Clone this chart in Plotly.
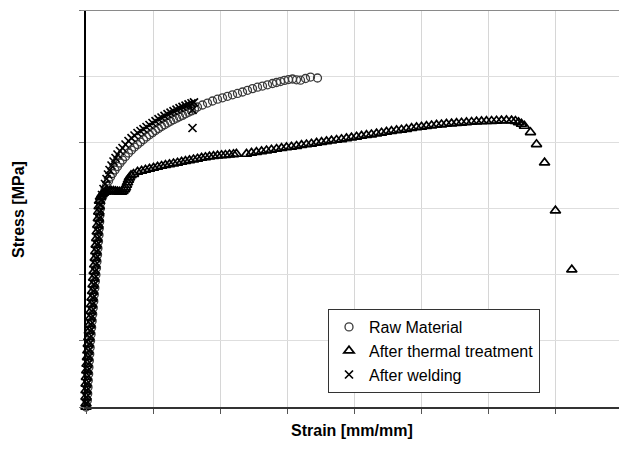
import plotly.graph_objects as go

# ---------------- data (strain [mm/mm], stress [MPa]) ----------------
raw_strain_elastic = [0.0000, 0.0010, 0.0013, 0.0015, 0.0017, 0.0020, 0.0022, 0.0025, 0.0028, 0.0031,
                      0.0034, 0.0038, 0.0042, 0.0046, 0.0050, 0.0054, 0.0058, 0.0062, 0.0066, 0.0070,
                      0.0074, 0.0078, 0.0082, 0.0086, 0.0089, 0.0093, 0.0097, 0.0099, 0.0102, 0.0104,
                      0.0107]
raw_stress_elastic = [0, 10, 20, 30, 40, 50, 60, 70, 80, 90,
                      100, 110, 120, 130, 140, 150, 160, 170, 180, 190,
                      200, 210, 220, 230, 240, 250, 260, 270, 280, 290,
                      300]
raw_strain_knee = [0.01080, 0.01192, 0.01304, 0.01416, 0.01528, 0.01677, 0.01826, 0.01975, 0.02161,
                   0.02347, 0.02534, 0.02720, 0.02943, 0.03167, 0.03390, 0.03614, 0.03838, 0.04061,
                   0.04285, 0.04508, 0.04732, 0.04955, 0.05179, 0.05402, 0.05626, 0.05850, 0.06073,
                   0.06297, 0.06520, 0.06744, 0.06967, 0.07191, 0.07414, 0.07638, 0.07861, 0.08085]
raw_stress_knee = [308.3, 315.9, 321.9, 328.0, 334.0, 341.6, 347.6, 352.9, 358.2,
                   363.5, 368.8, 373.3, 378.6, 383.9, 388.4, 392.9, 396.7, 400.5,
                   404.3, 408.1, 411.4, 414.7, 417.9, 420.9, 423.9, 426.6, 429.2,
                   431.8, 434.2, 436.5, 438.6, 440.8, 443.1, 445.4, 447.6, 450.1]
raw_strain_hard = [0.08308, 0.08681, 0.09054, 0.09426, 0.09799, 0.10171, 0.10544, 0.10917, 0.11289,
                   0.11662, 0.12034, 0.12407, 0.12779, 0.13152, 0.13525, 0.13897, 0.14195, 0.14493,
                   0.14791, 0.15089, 0.15387, 0.15686, 0.15984, 0.16356, 0.16729, 0.17250]
raw_stress_hard = [453.4, 456.4, 459.4, 462.5, 465.2, 467.3, 469.6, 471.8, 473.9,
                   476.1, 478.6, 481.2, 483.3, 485.1, 486.9, 488.9, 490.4, 491.9,
                   493.7, 494.9, 495.7, 494.5, 493.9, 496.5, 498.7, 497.2]

thermal_strain_elastic = [0.0000, 0.0000, 0.0000, 0.0000, 0.0001, 0.0003, 0.0006, 0.0008, 0.0011, 0.0014,
                          0.0017, 0.0021, 0.0025, 0.0029, 0.0033, 0.0037, 0.0041, 0.0045, 0.0049, 0.0053,
                          0.0057, 0.0061, 0.0065, 0.0069, 0.0073, 0.0076, 0.0080, 0.0084, 0.0088, 0.0092,
                          0.0095, 0.0098]
thermal_stress_elastic = [0, 5, 15, 25, 35, 45, 55, 65, 75, 85,
                          95, 105, 115, 125, 135, 145, 155, 165, 175, 185,
                          195, 205, 215, 225, 235, 245, 255, 265, 275, 285,
                          295, 303]
thermal_strain_yield = [0.01006, 0.01080, 0.01192, 0.01304, 0.01453, 0.01602, 0.01751, 0.01900, 0.02049,
                        0.02198, 0.02347, 0.02496, 0.02645, 0.02757, 0.02869, 0.02943, 0.03018, 0.03092,
                        0.03167, 0.03241, 0.03353]
thermal_stress_yield = [311.3, 317.4, 321.2, 323.4, 324.9, 325.7, 326.1, 326.4, 326.4,
                        326.0, 325.5, 325.2, 325.2, 326.4, 328.7, 331.7, 335.5, 339.3,
                        343.1, 346.8, 349.9]
thermal_strain_seg1 = [0.0354, 0.0384, 0.0414, 0.0443, 0.0473, 0.0503, 0.0533, 0.0563, 0.0592,
                       0.0622, 0.0652, 0.0682, 0.0712, 0.0741, 0.0771, 0.0801, 0.0831, 0.0861,
                       0.0890, 0.0920, 0.0950, 0.0980, 0.1010, 0.1039, 0.1069, 0.1099, 0.1121]
thermal_stress_seg1 = [352.1, 355.2, 356.7, 358.2, 359.7, 361.2, 362.7, 364.2, 365.4,
                       366.6, 367.9, 369.1, 370.3, 371.5, 372.7, 373.9, 375.1, 376.3,
                       377.4, 378.3, 379.0, 379.8, 380.4, 380.8, 381.5, 381.9, 382.4]
thermal_strain_seg2 = [0.1196, 0.1233, 0.1270, 0.1308, 0.1345, 0.1382, 0.1420, 0.1457, 0.1494, 0.1531,
                       0.1569, 0.1606, 0.1643, 0.1680, 0.1718, 0.1755, 0.1792, 0.1829, 0.1867, 0.1904,
                       0.1941, 0.1978, 0.2016, 0.2053, 0.2090, 0.2127, 0.2165, 0.2202, 0.2239, 0.2276,
                       0.2314, 0.2351, 0.2388, 0.2426, 0.2463, 0.2500, 0.2537, 0.2575, 0.2612, 0.2649,
                       0.2686, 0.2724, 0.2761, 0.2798, 0.2835, 0.2873, 0.2910, 0.2947, 0.2984, 0.3022,
                       0.3059, 0.3096, 0.3133, 0.3171, 0.3200, 0.3223, 0.3245, 0.3267,
                       0.3312, 0.3357, 0.3417, 0.3498, 0.3620]
thermal_stress_seg2 = [382.4, 383.9, 385.1, 386.3, 387.5, 388.7, 389.9, 391.1, 392.2, 393.2,
                       394.4, 395.7, 396.7, 397.8, 399.0, 400.2, 401.3, 402.5, 403.5, 404.6,
                       405.8, 407.0, 408.4, 409.6, 410.8, 411.8, 413.0, 414.4, 415.6, 416.8,
                       417.9, 418.9, 420.1, 421.4, 422.4, 423.5, 424.4, 425.3, 426.2, 426.9,
                       427.7, 428.3, 428.9, 429.5, 430.1, 430.7, 431.2, 431.6, 431.9, 432.2,
                       432.5, 432.8, 433.0, 432.8, 432.2, 430.0, 427.7, 424.7,
                       415.2, 397.0, 369.2, 296.7, 207.5]

weld_strain_elastic = [0.0001, 0.0003, 0.0006, 0.0008, 0.0010, 0.0013, 0.0015, 0.0018, 0.0021, 0.0024,
                       0.0028, 0.0032, 0.0036, 0.0040, 0.0044, 0.0048, 0.0052, 0.0056, 0.0060, 0.0064,
                       0.0068, 0.0072, 0.0076, 0.0080, 0.0083, 0.0087, 0.0091, 0.0095, 0.0099, 0.0102]
weld_stress_elastic = [5, 15, 25, 35, 45, 55, 65, 75, 85, 95,
                       105, 115, 125, 135, 145, 155, 165, 175, 185, 195,
                       205, 215, 225, 235, 245, 255, 265, 275, 285, 295]
weld_strain_plastic = [0.01043, 0.01118, 0.01192, 0.01304, 0.01416, 0.01528, 0.01639, 0.01751, 0.01900,
                       0.02049, 0.02198, 0.02347, 0.02534, 0.02720, 0.02943, 0.03167, 0.03390, 0.03614,
                       0.03838, 0.04061, 0.04285, 0.04508, 0.04732, 0.04955, 0.05179, 0.05402, 0.05626,
                       0.05850, 0.06073, 0.06297, 0.06520, 0.06744, 0.06967, 0.07191, 0.07414, 0.07638,
                       0.07861, 0.08048, 0.07936, 0.07936]
weld_stress_plastic = [305.3, 312.8, 320.4, 329.5, 337.0, 344.6, 351.4, 358.2, 365.0,
                       371.0, 376.3, 381.6, 386.9, 391.4, 396.7, 402.0, 406.5, 410.3,
                       414.1, 417.1, 420.1, 423.2, 426.2, 429.2, 432.2, 435.0, 437.5,
                       440.1, 442.5, 444.9, 447.3, 449.5, 451.6, 453.5, 455.5, 457.3,
                       459.1, 460.5, 448.9, 421.7]

series_names = ["Raw Material", "After thermal treatment", "After welding"]

raw_x = raw_strain_elastic + raw_strain_knee + raw_strain_hard
raw_y = raw_stress_elastic + raw_stress_knee + raw_stress_hard
th_x = thermal_strain_elastic + thermal_strain_yield + thermal_strain_seg1 + thermal_strain_seg2
th_y = thermal_stress_elastic + thermal_stress_yield + thermal_stress_seg1 + thermal_stress_seg2
w_x = weld_strain_elastic + weld_strain_plastic
w_y = weld_stress_elastic + weld_stress_plastic

FONT = "Liberation Sans, Arial, sans-serif"

fig = go.Figure()
fig.add_trace(go.Scatter(
    x=raw_x, y=raw_y, mode="markers", name=series_names[0], cliponaxis=False,
    marker=dict(symbol="circle-open", size=8, color="#3a3a3a",
                line=dict(width=1.3, color="#3a3a3a"))))
fig.add_trace(go.Scatter(
    x=th_x, y=th_y, mode="markers", name=series_names[1], cliponaxis=False,
    marker=dict(symbol="triangle-up-open", size=9, color="#000000",
                line=dict(width=1.7, color="#000000"))))
fig.add_trace(go.Scatter(
    x=w_x, y=w_y, mode="markers", name=series_names[2], cliponaxis=False,
    marker=dict(symbol="x-thin-open", size=8, color="#000000",
                line=dict(width=1.7, color="#000000"))))

L, R, T, B = 86, 0, 10, 60
W, H = 619, 467
pw, ph = W - L - R, H - T - B

fig.update_layout(
    width=W, height=H,
    margin=dict(l=L, r=R, t=T, b=B, pad=0),
    paper_bgcolor="white", plot_bgcolor="white",
    font=dict(family=FONT, size=16, color="black"),
    showlegend=True,
    legend=dict(x=(328 - L) / pw, y=(407 - 309) / ph, xanchor="left", yanchor="top",
                bgcolor="white", bordercolor="#333333", borderwidth=1,
                font=dict(family=FONT, size=16, color="black"),
                tracegroupgap=0),
    xaxis=dict(range=[0, pw / 1342.0], tick0=0, dtick=0.05, showticklabels=False,
               showgrid=True, gridcolor="#d6d6d6", gridwidth=1,
               showline=True, linecolor="#333333", linewidth=2,
               ticks="outside", ticklen=5, tickcolor="#555555", tickwidth=1,
               zeroline=False),
    yaxis=dict(range=[0, 600], tick0=0, dtick=100, showticklabels=False,
               showgrid=True, gridcolor="#dedede", gridwidth=1,
               showline=True, linecolor="#000000", linewidth=1.5,
               ticks="outside", ticklen=5, tickcolor="#777777", tickwidth=1,
               zeroline=False),
    shapes=[dict(type="line", xref="paper", yref="y", x0=-5 / pw, x1=1, y0=600, y1=600,
                 line=dict(color="#8a8a8a", width=2), layer="above")],
    annotations=[
        dict(text="<b>Stress [MPa]</b>", xref="paper", yref="paper",
             x=(18 - L) / pw, y=(407 - 210) / ph, xanchor="center", yanchor="middle",
             textangle=-90, showarrow=False, font=dict(family=FONT, size=16, color="black")),
        dict(text="<b>Strain [mm/mm]</b>", xref="paper", yref="paper",
             x=(352 - L) / pw, y=(407 - 430) / ph, xanchor="center", yanchor="middle",
             showarrow=False, font=dict(family=FONT, size=16, color="black")),
    ],
)

fig.write_html("out.html")
